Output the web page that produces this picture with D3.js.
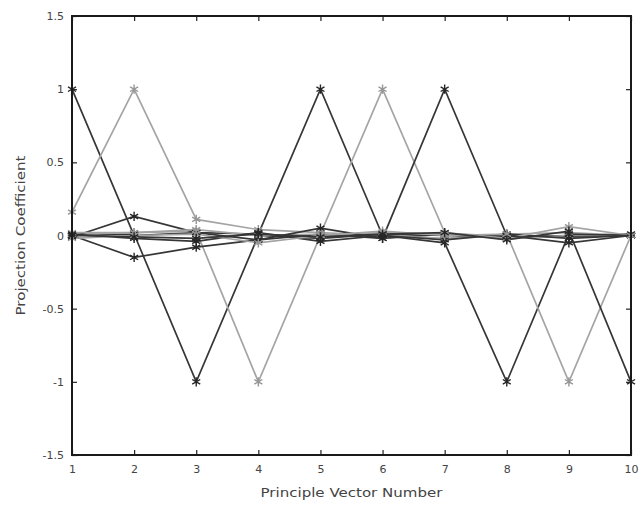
<!DOCTYPE html>
<html>
<head>
<meta charset="utf-8">
<script src="https://cdn.jsdelivr.net/npm/d3@7"></script>
<style>
  body { margin: 0; background: #fff; }
  .tickLabel { font-family: "DejaVu Sans", sans-serif; font-size: 11px; fill: #444; }
  .axisText { font-family: "DejaVu Sans", sans-serif; font-size: 12px; fill: #444; }
</style>
</head>
<body>
<div id="chart"></div>
<script>
// x positions (principle vector number)
var vectorNumbers = [1, 2, 3, 4, 5, 6, 7, 8, 9, 10];

// projection coefficients, one array per curve
var pv1 = [1.00, 0.00, 0.02, -0.03, 0.01, -0.02, 0.01, 0.00, -0.01, 0.00];
var pv2 = [0.16, 1.00, 0.11, 0.04, 0.02, 0.00, -0.02, 0.01, 0.02, 0.00];
var pv3 = [0.00, 0.01, -1.00, 0.00, -0.02, 0.01, 0.00, -0.01, 0.00, 0.01];
var pv4 = [0.01, 0.02, 0.03, -1.00, 0.00, 0.02, 0.01, -0.02, 0.00, 0.00];
var pv5 = [-0.01, 0.13, 0.02, 0.01, 1.00, 0.00, -0.03, 0.01, -0.02, 0.00];
var pv6 = [0.02, 0.02, 0.04, 0.00, 0.01, 1.00, 0.02, -0.02, 0.06, 0.00];
var pv7 = [0.00, -0.15, -0.08, -0.03, 0.05, -0.02, 1.00, 0.00, -0.05, 0.00];
var pv8 = [0.01, -0.02, -0.04, 0.02, -0.04, 0.00, -0.05, -1.00, 0.01, 0.00];
var pv9 = [-0.02, 0.00, 0.01, -0.05, 0.00, 0.03, 0.00, 0.01, -1.00, 0.00];
var pv10 = [0.00, -0.01, -0.02, 0.01, -0.01, 0.01, 0.02, -0.03, 0.03, -1.00];

var allSeries = [pv1, pv2, pv3, pv4, pv5, pv6, pv7, pv8, pv9, pv10];
// which curves are printed light grey
var lightSeries = [1, 3, 5, 8];

// tick labels
var yTicks = [-1.5, -1, -0.5, 0, 0.5, 1, 1.5];
var yTickLabels = ["-1.5", "-1", "-0.5", "0", "0.5", "1", "1.5"];
var xTickLabels = ["1", "2", "3", "4", "5", "6", "7", "8", "9", "10"];

var svgWidth = 641;
var svgHeight = 508;

var margin = { top: 16, right: 10, bottom: 53, left: 72 };
var width = svgWidth - margin.left - margin.right;
var height = svgHeight - margin.top - margin.bottom;

var svg = d3.select("#chart")
    .append("svg")
    .attr("width", svgWidth)
    .attr("height", svgHeight);

var chartGroup = svg.append("g")
    .attr("transform", `translate(${margin.left}, ${margin.top})`);

var xLinearScale = d3.scaleLinear()
    .domain([1, 10])
    .range([0, width]);

var yLinearScale = d3.scaleLinear()
    .domain([-1.5, 1.5])
    .range([height, 0]);

// axes with inward ticks on all four sides
var bottomAxis = d3.axisBottom(xLinearScale).tickValues(vectorNumbers)
    .tickSizeInner(-5).tickSizeOuter(0).tickFormat((d, i) => xTickLabels[i]);
var topAxis = d3.axisTop(xLinearScale).tickValues(vectorNumbers)
    .tickSizeInner(-5).tickSizeOuter(0).tickFormat("");
var leftAxis = d3.axisLeft(yLinearScale).tickValues(yTicks)
    .tickSizeInner(-5).tickSizeOuter(0).tickFormat((d, i) => yTickLabels[i]);
var rightAxis = d3.axisRight(yLinearScale).tickValues(yTicks)
    .tickSizeInner(-5).tickSizeOuter(0).tickFormat("");

var gx = chartGroup.append("g")
    .attr("transform", `translate(0, ${height})`)
    .call(bottomAxis);
chartGroup.append("g").call(topAxis);
var gy = chartGroup.append("g").call(leftAxis);
chartGroup.append("g")
    .attr("transform", `translate(${width}, 0)`)
    .call(rightAxis);

chartGroup.selectAll(".domain").remove();
chartGroup.selectAll(".tick line").attr("stroke", "#222").attr("stroke-width", 1.2);
gx.selectAll("text").attr("class", "tickLabel").attr("dy", "1.4em");
gy.selectAll("text").attr("class", "tickLabel").attr("x", -8);

// curves
var line = d3.line()
    .x((d, i) => xLinearScale(vectorNumbers[i]))
    .y(d => yLinearScale(d));

allSeries.forEach(function (values, k) {
    var colour = lightSeries.includes(k) ? "#a4a4a4" : "#363636";
    chartGroup.append("path")
        .datum(values)
        .attr("fill", "none")
        .attr("stroke", colour)
        .attr("stroke-width", 1.7)
        .attr("d", line);
});

allSeries.forEach(function (values, k) {
    var colour = lightSeries.includes(k) ? "#969696" : "#262626";
    chartGroup.selectAll(null)
        .data(values)
        .enter()
        .append("path")
        .attr("d", d3.symbol().type(d3.symbolAsterisk).size(60))
        .attr("transform", (d, i) => `translate(${xLinearScale(vectorNumbers[i])}, ${yLinearScale(d)})`)
        .attr("fill", "none")
        .attr("stroke", colour)
        .attr("stroke-width", 1.4);
});

// frame
chartGroup.append("rect")
    .attr("width", width)
    .attr("height", height)
    .attr("fill", "none")
    .attr("stroke", "#1a1a1a")
    .attr("stroke-width", 2);

// axis labels
chartGroup.append("text")
    .attr("class", "axisText")
    .attr("text-anchor", "middle")
    .attr("x", width / 2)
    .attr("y", height + 42)
    .attr("textLength", 182)
    .attr("lengthAdjust", "spacingAndGlyphs")
    .text("Principle Vector Number");

chartGroup.append("text")
    .attr("class", "axisText")
    .attr("text-anchor", "middle")
    .attr("transform", "rotate(-90)")
    .attr("x", -height / 2)
    .attr("y", -47)
    .attr("textLength", 160)
    .attr("lengthAdjust", "spacingAndGlyphs")
    .text("Projection Coefficient");
</script>
</body>
</html>
